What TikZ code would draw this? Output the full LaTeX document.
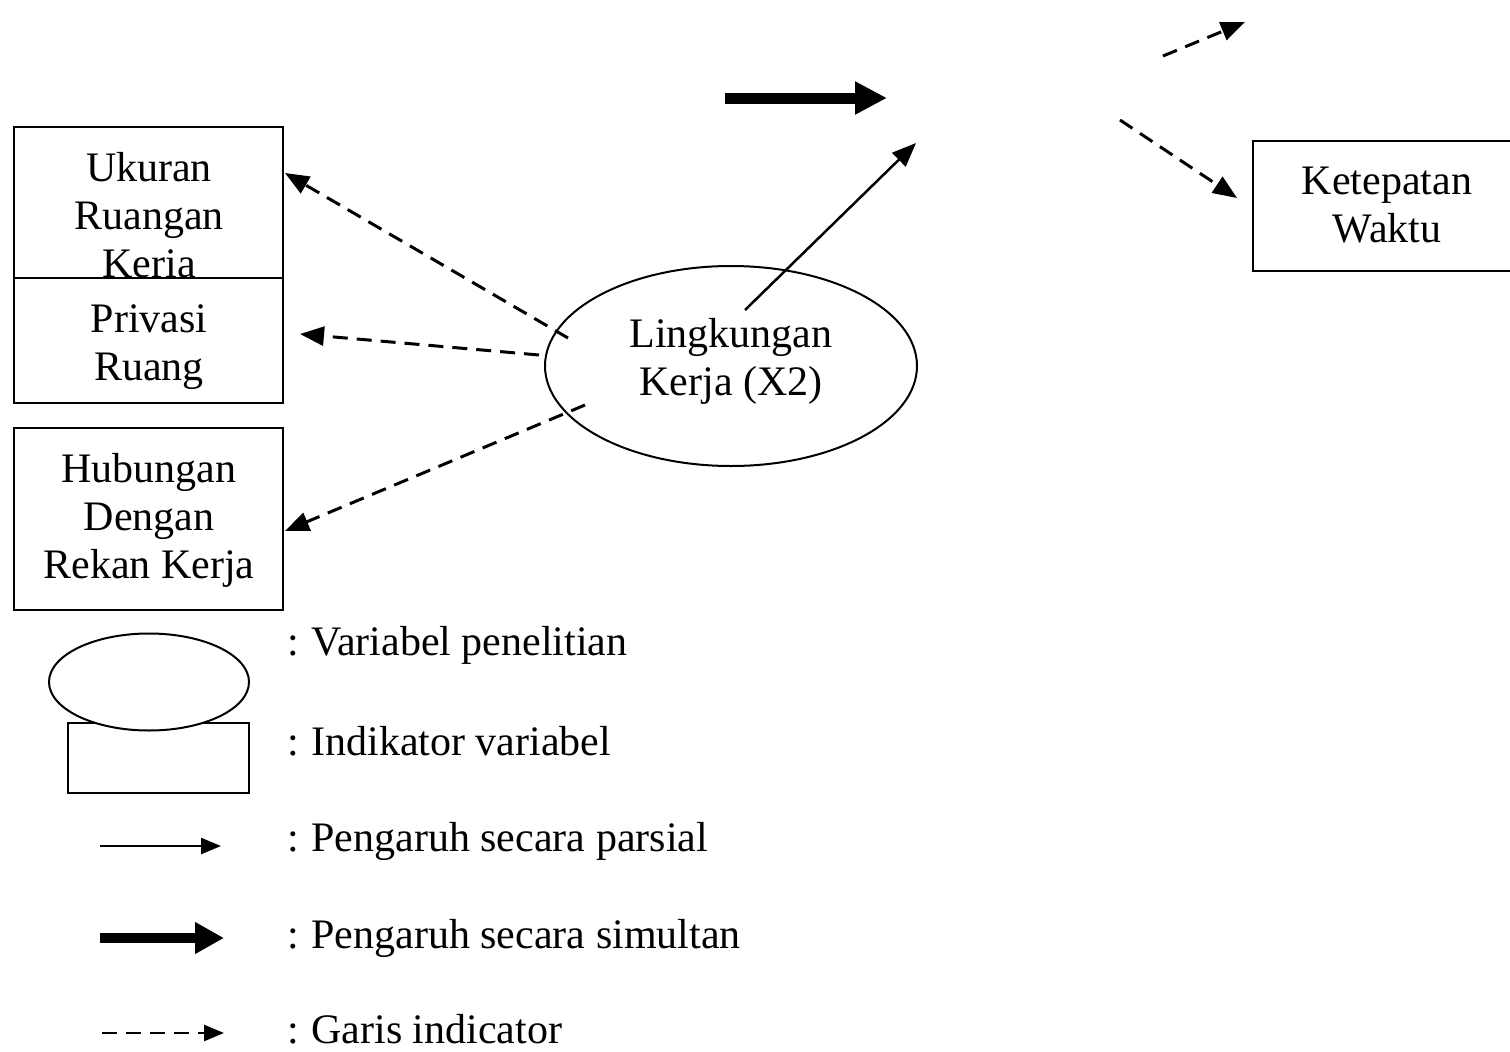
\documentclass[tikz,border=0pt]{standalone}
\usepackage{fontspec}
\setmainfont{Liberation Serif}
\usetikzlibrary{arrows.meta,shapes.geometric}
\tikzset{
  lbl/.style={font=\fontsize{42}{48}\selectfont, align=center, anchor=base, inner sep=0pt},
  leg/.style={font=\fontsize{42}{48}\selectfont, anchor=base west, inner sep=0pt},
  indbox/.style={draw, line width=2.5pt, fill=white, rectangle, inner sep=0pt},
  varell/.style={draw, line width=2pt, fill=white, ellipse, inner sep=0pt},
  indline/.style={line width=3pt, dash pattern=on 15pt off 9pt, -{Triangle[length=24pt,width=19pt]}},
  parline/.style={line width=2.5pt, -{Triangle[length=24pt,width=19pt]}},
  simline/.style={line width=11pt, -{Triangle[length=32pt,width=31pt]}},
}
\begin{document}
\begin{tikzpicture}[x=1pt,y=-1pt]
\useasboundingbox (0,0) rectangle (1510,1052);
\clip (0,0) rectangle (1510,1052);
% indicator boxes (text anchored at the baseline of its last line)
\node[indbox, minimum width=269pt, minimum height=151pt] (b1) at (148.5,202.5) {};
\node[lbl] (b1t) at (149,277) {Ukuran\\Ruangan\\Keria};
\node[indbox, minimum width=269pt, minimum height=125pt] (b2) at (148.5,340.5) {};
\node[lbl] (b2t) at (149,380) {Privasi\\Ruang};
\node[indbox, minimum width=269pt, minimum height=182pt] (b3) at (148.5,519) {};
\node[lbl] (b3t) at (149,578) {Hubungan\\Dengan\\Rekan Kerja};
% variable ellipse
\node[varell, minimum width=372pt, minimum height=200pt] (x2) at (731,366) {};
\node[lbl] (x2t) at (731,395) {Lingkungan\\Kerja (X2)};
% Ketepatan box
\node[indbox, minimum width=268pt, minimum height=130pt] (kw) at (1387,206) {};
\node[lbl] (kwt) at (1387,242) {Ketepatan\\Waktu};
% connectors
\coordinate (s1) at (568,338);
\coordinate (t1) at (285,173);
\coordinate (s2) at (539,355);
\coordinate (t2) at (300,334);
\coordinate (s3) at (585,405);
\coordinate (t3) at (285,531);
\coordinate (s4) at (745,310);
\coordinate (t4) at (916,143);
\coordinate (s5) at (725,98);
\coordinate (t5) at (887,98);
\coordinate (s6) at (1163,56);
\coordinate (t6) at (1245,22);
\coordinate (s7) at (1120,120);
\coordinate (t7) at (1237,198);
\draw[indline] (s1) -- (t1);
\draw[indline] (s2) -- (t2);
\draw[indline] (s3) -- (t3);
\draw[parline] (s4) -- (t4);
\draw[simline] (s5) -- (t5);
\draw[indline] (s6) -- (t6);
\draw[indline] (s7) -- (t7);
% legend
\node[draw, line width=2pt, rectangle, inner sep=0pt, minimum width=181pt, minimum height=70pt] (lr) at (158.5,758) {};
\node[varell, minimum width=200pt, minimum height=97pt] (le) at (149,682) {};
\coordinate (la1) at (100,846);
\coordinate (la2) at (221,846);
\coordinate (lb1) at (100,938);
\coordinate (lb2) at (224,938);
\coordinate (lc1) at (102,1033);
\coordinate (lc2) at (224,1033);
\draw[line width=2.5pt, -{Triangle[length=20pt,width=16pt]}] (la1) -- (la2);
\draw[line width=10pt, -{Triangle[length=29pt,width=30pt]}] (lb1) -- (lb2);
\draw[line width=2.5pt, dash pattern=on 15pt off 9pt, -{Triangle[length=20pt,width=16pt]}] (lc1) -- (lc2);
\node[leg] (l1) at (287,655) {:\hspace{0.3em}Variabel penelitian};
\node[leg] (l2) at (287,755) {:\hspace{0.3em}Indikator variabel};
\node[leg] (l3) at (287,851) {:\hspace{0.3em}Pengaruh secara parsial};
\node[leg] (l4) at (287,948) {:\hspace{0.3em}Pengaruh secara simultan};
\node[leg] (l5) at (287,1043) {:\hspace{0.3em}Garis indicator};
\end{tikzpicture}
\end{document}
